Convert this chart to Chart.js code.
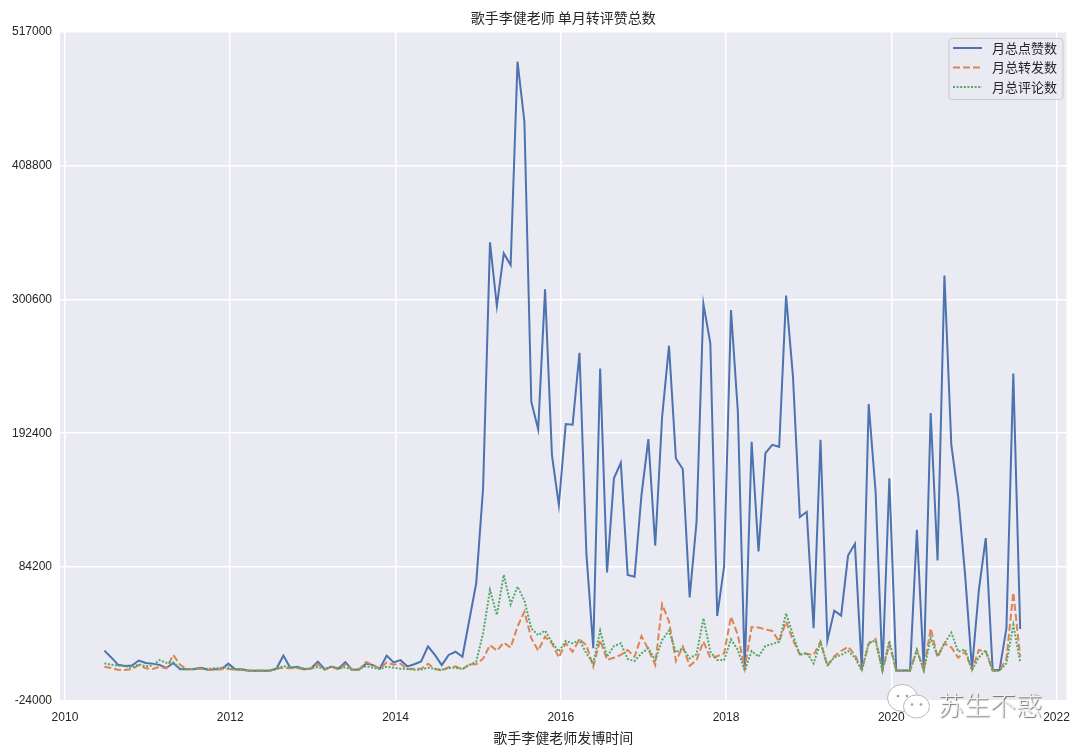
<!DOCTYPE html>
<html>
<head>
<meta charset="utf-8">
<title>歌手李健老师 单月转评赞总数</title>
<script src="https://cdn.jsdelivr.net/npm/chart.js@4"></script>
<style>
    body { margin: 0; background: #fff; }
    canvas { display: block; }
</style>
</head>
<body>
<canvas id="weiboChart" width="1080" height="752"></canvas>
<script>
// Months (one post total per month)
const months = [
    '2010-07','2010-08','2010-09','2010-10','2010-11','2010-12',
    '2011-01','2011-02','2011-03','2011-04','2011-05','2011-06','2011-07','2011-08','2011-09','2011-10','2011-11','2011-12',
    '2012-01','2012-02','2012-03','2012-04','2012-05','2012-06','2012-07','2012-08','2012-09','2012-10','2012-11','2012-12',
    '2013-01','2013-02','2013-03','2013-04','2013-05','2013-06','2013-07','2013-08','2013-09','2013-10','2013-11','2013-12',
    '2014-01','2014-02','2014-03','2014-04','2014-05','2014-06','2014-07','2014-08','2014-09','2014-10','2014-11','2014-12',
    '2015-01','2015-02','2015-03','2015-04','2015-05','2015-06','2015-07','2015-08','2015-09','2015-10','2015-11','2015-12',
    '2016-01','2016-02','2016-03','2016-04','2016-05','2016-06','2016-07','2016-08','2016-09','2016-10','2016-11','2016-12',
    '2017-01','2017-02','2017-03','2017-04','2017-05','2017-06','2017-07','2017-08','2017-09','2017-10','2017-11','2017-12',
    '2018-01','2018-02','2018-03','2018-04','2018-05','2018-06','2018-07','2018-08','2018-09','2018-10','2018-11','2018-12',
    '2019-01','2019-02','2019-03','2019-04','2019-05','2019-06','2019-07','2019-08','2019-09','2019-10','2019-11','2019-12',
    '2020-01','2020-02','2020-03','2020-04','2020-05','2020-06','2020-07','2020-08','2020-09','2020-10','2020-11','2020-12',
    '2021-01','2021-02','2021-03','2021-04','2021-05','2021-06','2021-07','2021-08'
];

// 月总点赞数
const likes = [
    16500,11000,5000,4000,4500,8500,6500,6000,5000,2500,6500,1500,1500,1500,2700,1000,1500,1500,6000,1500,
    1500,200,300,300,300,2000,12500,2500,3500,1500,2000,7500,1500,3500,2000,7200,1000,1200,6000,4800,
    2000,12500,7000,8800,3800,5500,7800,20000,13000,4800,13000,15600,11600,41300,71000,148000,346800,295300,337900,328500,
    493000,444400,217900,195500,308800,174700,134300,199800,199300,257500,95200,18400,244800,79800,155900,168500,77700,76300,142400,187700,
    101400,205700,263200,172000,163400,59600,120800,296900,265100,44500,84400,292000,209800,800,185500,96700,176300,183000,181400,303750,
    238400,124500,128800,34600,187100,24600,48900,44800,93400,102900,800,216000,145300,800,156000,500,500,500,114200,800,
    208700,89400,320000,183000,141200,77800,2000,65600,107500,800,800,34600,240600,34000
];

// 月总转发数
const reposts = [
    3500,2400,1000,800,1600,4800,2200,1600,3500,2200,13000,5000,1300,1800,1800,800,1000,1800,1600,1000,
    1300,300,500,400,400,2000,2700,2200,2400,1300,1800,5700,1000,3500,1300,5400,1000,1300,7300,4800,
    1600,7000,5100,5900,1600,1800,1800,5900,1600,500,3000,3800,1300,5400,5400,10000,21000,16500,23000,19000,
    36000,48000,26500,16500,27800,22400,11000,22400,15700,25600,21000,3500,25000,9000,10800,13000,17000,11600,28300,17500,
    4900,54000,40000,8100,19700,4300,8900,23800,10800,12000,14300,44000,29000,2000,35600,35200,33700,32400,23800,40000,
    25000,13500,13800,13000,23800,4000,12000,16200,19700,13000,800,21900,26000,300,21900,300,300,300,17000,800,
    34500,11000,22400,19200,10800,15700,800,17000,15700,300,300,10000,63500,11600
];

// 月总评论数
const comments = [
    6200,5100,4300,4000,2700,5400,3800,4600,8900,6700,7000,1900,1600,1600,2400,1600,2200,2700,3000,1300,
    800,300,300,300,300,1600,4000,3000,3000,1900,1900,3200,1600,3800,1900,3000,1000,1600,3800,2700,
    1600,3500,2700,1900,1600,1000,1300,2700,1900,1000,2400,2700,1600,4900,7500,30500,65600,45400,77800,54000,
    68300,57000,34500,29000,32700,23200,15700,24300,22400,25100,14300,6200,32700,11600,20200,22400,9700,8100,14300,18400,
    8900,25100,32700,15100,18400,10300,13500,42700,15700,8900,8900,25600,17000,300,16200,11600,20300,21900,23800,46700,
    29200,13000,14900,6200,23200,4900,11000,13000,16200,11000,300,23000,24600,300,24300,300,300,300,17000,300,
    26500,12200,22400,31000,15700,17500,800,11000,17000,300,300,6200,37300,7500
];

const seriesNames = ['月总点赞数', '月总转发数', '月总评论数'];
const seriesColors = ['#4C72B0', '#DD8452', '#55A868'];
const seriesDashes = [[], [7, 3], [2, 1.6]];

const cjkFont = '"Noto Sans CJK SC", "Noto Sans", sans-serif';
const textColor = '#262626';

// month string -> decimal year, points sit a little before the month starts
function toYear(month) {
    const [y, m] = month.split('-').map(Number);
    return y + (m - 1) / 12 - 0.023;
}

function toPoints(values) {
    return values.map((v, i) => ({ x: toYear(months[i]), y: v }));
}

// Grey plot background
const plotBackground = {
    id: 'plotBackground',
    beforeDraw(chart) {
        const { ctx, chartArea: a } = chart;
        ctx.save();
        ctx.fillStyle = '#EAEAF2';
        ctx.fillRect(a.left, a.top, a.width, a.height);
        ctx.restore();
    }
};

// Legend box in the top right corner, drawn over the lines
const cornerLegend = {
    id: 'cornerLegend',
    afterDatasetsDraw(chart) {
        const ctx = chart.ctx;
        ctx.save();
        ctx.beginPath();
        ctx.roundRect(949, 38.5, 114, 61, 3);
        ctx.fillStyle = 'rgba(234,234,242,0.8)';
        ctx.fill();
        ctx.strokeStyle = '#cccccc';
        ctx.lineWidth = 1;
        ctx.stroke();
        ctx.font = '13px ' + cjkFont;
        ctx.textBaseline = 'middle';
        seriesNames.forEach((name, i) => {
            const y = 48 + i * 19.5;
            ctx.beginPath();
            ctx.setLineDash(seriesDashes[i]);
            ctx.strokeStyle = seriesColors[i];
            ctx.lineWidth = 2;
            ctx.moveTo(953, y);
            ctx.lineTo(982, y);
            ctx.stroke();
            ctx.fillStyle = textColor;
            ctx.fillText(name, 992, y);
        });
        ctx.restore();
    }
};

// WeChat account watermark in the lower right corner
const watermark = {
    id: 'watermark',
    afterDraw(chart) {
        const ctx = chart.ctx;
        ctx.save();
        [[902.5, 698, 15, 13.5], [916.5, 706.5, 13, 11.5]].forEach(b => {
            ctx.beginPath();
            ctx.ellipse(b[0], b[1], b[2], b[3], 0, 0, Math.PI * 2);
            ctx.fillStyle = '#ffffff';
            ctx.fill();
            ctx.strokeStyle = '#b8b8b8';
            ctx.lineWidth = 1;
            ctx.stroke();
            [-4.5, 4.5].forEach(dx => {
                ctx.beginPath();
                ctx.arc(b[0] + dx, b[1] - 2, 1.3, 0, Math.PI * 2);
                ctx.fillStyle = '#a0a0a0';
                ctx.fill();
            });
        });
        ctx.font = '300 26px ' + cjkFont;
        ctx.textBaseline = 'middle';
        ctx.shadowColor = 'rgba(0,0,0,0.55)';
        ctx.shadowBlur = 1;
        ctx.shadowOffsetX = 1;
        ctx.shadowOffsetY = 1;
        ctx.fillStyle = '#f2f2f2';
        ctx.fillText('苏生不惑', 938, 705);
        ctx.restore();
    }
};

new Chart(document.getElementById('weiboChart').getContext('2d'), {
    type: 'line',
    data: {
        datasets: [likes, reposts, comments].map((values, i) => ({
            label: seriesNames[i],
            data: toPoints(values),
            borderColor: seriesColors[i],
            borderDash: seriesDashes[i],
            borderWidth: 2,
            pointRadius: 0,
            tension: 0,
            fill: false,
            order: 3 - i
        }))
    },
    options: {
        responsive: false,
        animation: false,
        layout: { padding: { right: 11 } },
        plugins: {
            legend: { display: false },
            tooltip: { enabled: false },
            title: {
                display: true,
                text: '歌手李健老师 单月转评赞总数',
                fullSize: false,
                color: textColor,
                font: { family: cjkFont, size: 14, weight: 'normal', lineHeight: 1.2 },
                padding: { top: 9, bottom: 6.2 }
            }
        },
        scales: {
            x: {
                type: 'linear',
                min: 2009.94,
                max: 2022.12,
                grid: { color: '#ffffff', lineWidth: 1.5, drawTicks: false },
                border: { display: false },
                ticks: {
                    stepSize: 2,
                    includeBounds: false,
                    maxRotation: 0,
                    padding: 10,
                    color: textColor,
                    font: { family: '"Liberation Sans", Arial, sans-serif', size: 12 },
                    callback: value => String(value)
                },
                title: {
                    display: true,
                    text: '歌手李健老师发博时间',
                    color: textColor,
                    font: { family: cjkFont, size: 14, weight: 'normal' },
                    padding: { top: 0, bottom: 6 }
                },
                afterFit: scale => { scale.height = 51.3; }
            },
            y: {
                min: -24000,
                max: 517000,
                grid: { color: '#ffffff', lineWidth: 1.5, drawTicks: false },
                border: { display: false },
                ticks: {
                    stepSize: 100000,
                    includeBounds: false,
                    padding: 8,
                    color: textColor,
                    font: { family: '"Liberation Sans", Arial, sans-serif', size: 12 },
                    callback: value => String(value)
                },
                afterFit: scale => { scale.width = 60; }
            }
        }
    },
    plugins: [plotBackground, cornerLegend, watermark]
});
</script>
</body>
</html>
